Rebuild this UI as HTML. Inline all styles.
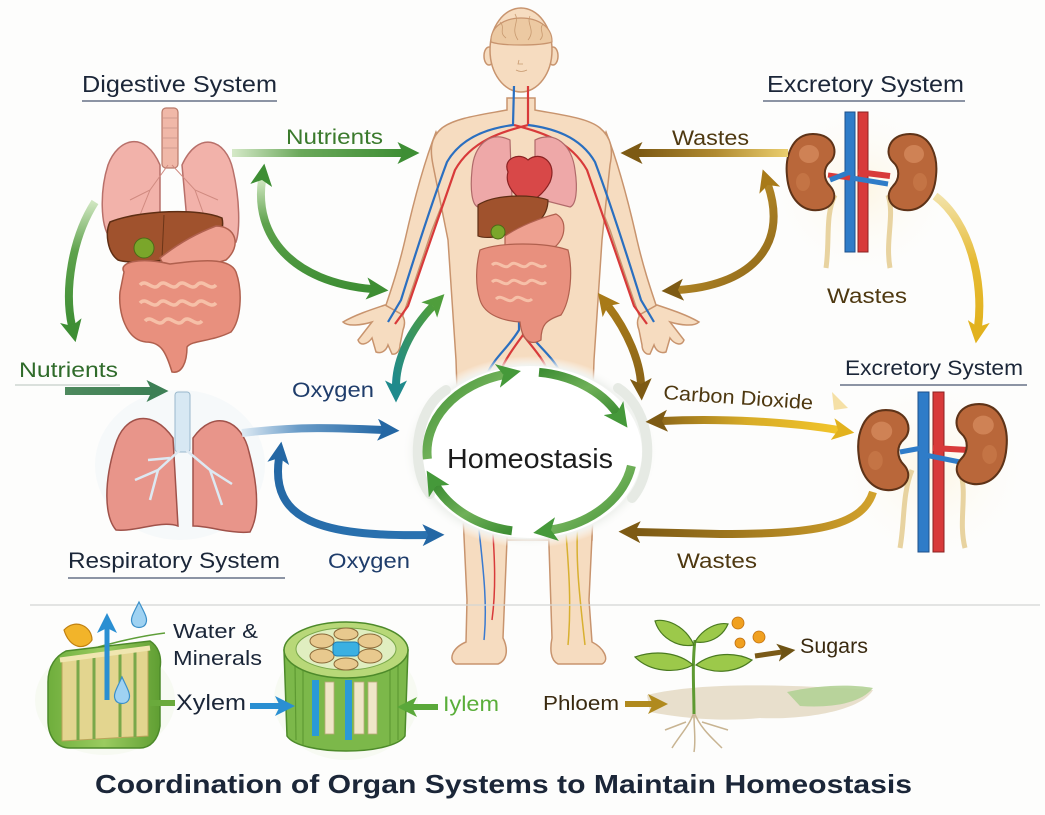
<!DOCTYPE html>
<html><head><meta charset="utf-8"><style>
html,body{margin:0;padding:0;background:#fdfdfc;}
svg{display:block;}
text{font-family:"Liberation Sans",sans-serif;}
</style></head><body>
<svg width="1045" height="815" viewBox="0 0 1045 815" xmlns="http://www.w3.org/2000/svg">
<defs>
 <marker id="mG" viewBox="0 0 12 12" refX="3" refY="6" markerWidth="22" markerHeight="22" markerUnits="userSpaceOnUse" orient="auto-start-reverse"><path d="M0,0 L12,6 L0,12 L3,6 Z" fill="#3e8e34"/></marker>
 <marker id="mG2" viewBox="0 0 12 12" refX="3" refY="6" markerWidth="24" markerHeight="24" markerUnits="userSpaceOnUse" orient="auto-start-reverse"><path d="M0,0 L12,6 L0,12 L3,6 Z" fill="#45993a"/></marker>
 <marker id="mGT" viewBox="0 0 12 12" refX="3" refY="6" markerWidth="22" markerHeight="22" markerUnits="userSpaceOnUse" orient="auto-start-reverse"><path d="M0,0 L12,6 L0,12 L3,6 Z" fill="#3d7f55"/></marker>
 <marker id="mT" viewBox="0 0 12 12" refX="3" refY="6" markerWidth="22" markerHeight="22" markerUnits="userSpaceOnUse" orient="auto-start-reverse"><path d="M0,0 L12,6 L0,12 L3,6 Z" fill="#1f8a8c"/></marker>
 <marker id="mT2" viewBox="0 0 12 12" refX="3" refY="6" markerWidth="22" markerHeight="22" markerUnits="userSpaceOnUse" orient="auto-start-reverse"><path d="M0,0 L12,6 L0,12 L3,6 Z" fill="#4f9e3c"/></marker>
 <marker id="mB" viewBox="0 0 12 12" refX="3" refY="6" markerWidth="22" markerHeight="22" markerUnits="userSpaceOnUse" orient="auto-start-reverse"><path d="M0,0 L12,6 L0,12 L3,6 Z" fill="#2467a4"/></marker>
 <marker id="mBr" viewBox="0 0 12 12" refX="3" refY="6" markerWidth="22" markerHeight="22" markerUnits="userSpaceOnUse" orient="auto-start-reverse"><path d="M0,0 L12,6 L0,12 L3,6 Z" fill="#7d5a14"/></marker>
 <marker id="mGo" viewBox="0 0 12 12" refX="3" refY="6" markerWidth="22" markerHeight="22" markerUnits="userSpaceOnUse" orient="auto-start-reverse"><path d="M0,0 L12,6 L0,12 L3,6 Z" fill="#a87a18"/></marker>
 <marker id="mY" viewBox="0 0 12 12" refX="3" refY="6" markerWidth="22" markerHeight="22" markerUnits="userSpaceOnUse" orient="auto-start-reverse"><path d="M0,0 L12,6 L0,12 L3,6 Z" fill="#e2b21e"/></marker>
 <marker id="mLB" viewBox="0 0 12 12" refX="3" refY="6" markerWidth="20" markerHeight="20" markerUnits="userSpaceOnUse" orient="auto-start-reverse"><path d="M0,0 L12,6 L0,12 L3,6 Z" fill="#2a8fd2"/></marker>
 <marker id="mLG" viewBox="0 0 12 12" refX="3" refY="6" markerWidth="20" markerHeight="20" markerUnits="userSpaceOnUse" orient="auto-start-reverse"><path d="M0,0 L12,6 L0,12 L3,6 Z" fill="#5aa83a"/></marker>
 <marker id="mPh" viewBox="0 0 12 12" refX="3" refY="6" markerWidth="20" markerHeight="20" markerUnits="userSpaceOnUse" orient="auto-start-reverse"><path d="M0,0 L12,6 L0,12 L3,6 Z" fill="#b08a1e"/></marker>
 <marker id="mSu" viewBox="0 0 12 12" refX="3" refY="6" markerWidth="18" markerHeight="18" markerUnits="userSpaceOnUse" orient="auto-start-reverse"><path d="M0,0 L12,6 L0,12 L3,6 Z" fill="#6e5314"/></marker>

 <linearGradient id="gNutTop" gradientUnits="userSpaceOnUse" x1="232" y1="0" x2="405" y2="0"><stop offset="0" stop-color="#d5e9c8"/><stop offset="0.4" stop-color="#6aa85a"/><stop offset="1" stop-color="#3e8e34"/></linearGradient>
 <linearGradient id="gNutLeft" gradientUnits="userSpaceOnUse" x1="60" y1="0" x2="155" y2="0"><stop offset="0" stop-color="#4f8a5e"/><stop offset="1" stop-color="#3d7f55"/></linearGradient>
 <linearGradient id="gWasteTop" gradientUnits="userSpaceOnUse" x1="790" y1="0" x2="640" y2="0"><stop offset="0" stop-color="#ecd070"/><stop offset="0.5" stop-color="#b08a30"/><stop offset="1" stop-color="#7d5a14"/></linearGradient>
 <linearGradient id="gOxy" gradientUnits="userSpaceOnUse" x1="240" y1="0" x2="385" y2="0"><stop offset="0" stop-color="#e2edf5"/><stop offset="0.4" stop-color="#6a9cc8"/><stop offset="1" stop-color="#2467a4"/></linearGradient>
 <linearGradient id="gCO2" gradientUnits="userSpaceOnUse" x1="655" y1="0" x2="840" y2="0"><stop offset="0" stop-color="#8a6418"/><stop offset="0.5" stop-color="#d8ac28"/><stop offset="1" stop-color="#f2c52a"/></linearGradient>
 <linearGradient id="gWasteBot" gradientUnits="userSpaceOnUse" x1="875" y1="0" x2="640" y2="0"><stop offset="0" stop-color="#d2a22c"/><stop offset="1" stop-color="#7d5a14"/></linearGradient>
 <linearGradient id="gGreenV" x1="0" y1="0" x2="0" y2="1"><stop offset="0" stop-color="#cfe6c0"/><stop offset="0.4" stop-color="#5ea24c"/><stop offset="1" stop-color="#3e8e34"/></linearGradient>
 <linearGradient id="gGreenC" x1="0" y1="0" x2="1" y2="1"><stop offset="0" stop-color="#3e8e34"/><stop offset="0.5" stop-color="#6fb058"/><stop offset="1" stop-color="#3e8e34"/></linearGradient>
 <linearGradient id="gTeal" x1="1" y1="0" x2="0" y2="1"><stop offset="0" stop-color="#4f9e3c"/><stop offset="1" stop-color="#1f8a8c"/></linearGradient>
 <linearGradient id="gBrownC" x1="0" y1="0" x2="0" y2="1"><stop offset="0" stop-color="#a87a18"/><stop offset="1" stop-color="#8a6418"/></linearGradient>
 <linearGradient id="gYel" x1="0" y1="0" x2="0" y2="1"><stop offset="0" stop-color="#f2e2a8"/><stop offset="0.5" stop-color="#e6bb35"/><stop offset="1" stop-color="#e2b21e"/></linearGradient>
 <linearGradient id="gBrownR" x1="0" y1="0" x2="1" y2="1"><stop offset="0" stop-color="#d0a030"/><stop offset="1" stop-color="#8a6418"/></linearGradient>
 <linearGradient id="gBlueC" x1="0" y1="0" x2="1" y2="1"><stop offset="0" stop-color="#2467a4"/><stop offset="1" stop-color="#2a72b0"/></linearGradient>
 <linearGradient id="gStem" x1="0" y1="0" x2="1" y2="0"><stop offset="0" stop-color="#6fae3c"/><stop offset="0.5" stop-color="#9acb60"/><stop offset="1" stop-color="#5f9e32"/></linearGradient>
 <radialGradient id="gGlow" cx="0.5" cy="0.5" r="0.5"><stop offset="0.7" stop-color="#ffffff"/><stop offset="0.9" stop-color="#f1f3f0"/><stop offset="1" stop-color="#fdfdfc" stop-opacity="0"/></radialGradient>
 <radialGradient id="gKid" cx="0.5" cy="0.5" r="0.5"><stop offset="0" stop-color="#fdf6e4"/><stop offset="1" stop-color="#fdfdfc" stop-opacity="0"/></radialGradient>

 <g id="kidR">
  <path d="M2,-38 C24,-38 30,-14 28,4 C26,28 12,40 -4,38 C-18,36 -24,24 -15,14 C-8,7 -8,-4 -15,-10 C-24,-18 -20,-38 2,-38 Z" fill="#b9673a" stroke="#5e3318" stroke-width="2"/>
  <ellipse cx="6" cy="-18" rx="10" ry="9" fill="#d48a5c" opacity="0.8"/>
  <ellipse cx="12" cy="10" rx="7" ry="9" fill="#c97a4a" opacity="0.7"/>
 </g>
</defs>

<rect width="1045" height="815" fill="#fdfdfc"/>

<!-- ============ BODY ============ -->
<g stroke="#c8946e" stroke-width="1.5" fill="#f6dcc0">
 <!-- arms -->
 <path d="M436,132 C425,160 414,200 405,240 C398,270 391,290 385,308 L402,318 C412,290 422,260 432,230 C440,210 448,190 453,175 Z"/>
 <path d="M385,305 C370,310 355,315 343,322 C348,327 362,325 372,322 L358,340 C360,346 367,345 372,338 L376,352 C381,354 386,351 388,345 L392,354 C396,355 400,351 400,345 L403,330 C406,322 404,317 401,314 Z"/>
 <path d="M606,132 C617,160 628,200 637,240 C644,270 651,290 657,308 L640,318 C630,290 620,260 610,230 C602,210 594,190 589,175 Z"/>
 <path d="M657,305 C672,310 687,315 699,322 C694,327 680,325 670,322 L684,340 C682,346 675,345 670,338 L666,352 C661,354 656,351 654,345 L650,354 C646,355 642,351 642,345 L639,330 C636,322 638,317 641,314 Z"/>
 <!-- torso -->
 <path d="M507,98 L507,110 C480,115 455,118 442,128 C430,138 430,150 433,165 L448,240 L452,300 L456,360 L458,420 L466,540 L592,540 L592,420 L594,360 L598,300 L602,240 L610,165 C613,150 612,138 600,128 C588,118 562,115 535,110 L535,98 Z"/>
 <!-- legs -->
 <path d="M463,515 L508,515 L503,638 C508,648 508,660 498,664 L456,664 C448,660 452,648 466,642 L467,600 Z"/>
 <path d="M548,515 L593,515 L589,600 L592,642 C604,648 610,660 602,664 L558,664 C550,660 550,648 552,638 Z"/>
 <!-- neck & head -->
 <ellipse cx="489" cy="56" rx="5" ry="9"/>
 <ellipse cx="553" cy="56" rx="5" ry="9"/>
 <ellipse cx="521" cy="50" rx="31" ry="42"/>
</g>
<path d="M491,42 C489,10 553,10 552,42 C540,46 502,46 491,42 Z" fill="#ecc9a2" stroke="#c8946e" stroke-width="1.2"/>
<g stroke="#c89a70" stroke-width="0.8" fill="none">
 <path d="M500,22 C506,28 498,32 506,38"/><path d="M515,14 C520,22 510,28 518,40"/><path d="M530,16 C526,24 536,30 528,40"/><path d="M543,24 C538,30 546,34 540,40"/>
 <path d="M516,70 Q521,73 527,70"/><path d="M519,60 L518,64 L523,64"/>
</g>
<!-- veins -->
<g fill="none" stroke-width="2.2">
 <path d="M514,86 L513,125 C490,128 462,136 447,162 C432,202 416,252 401,300 L388,322" stroke="#2a6fc0"/>
 <path d="M528,86 L528,125 C502,132 472,140 455,170 C441,210 423,262 408,306 L395,324" stroke="#d83a3a"/>
 <path d="M528,125 C552,128 580,136 595,162 C610,202 626,252 641,300 L654,322" stroke="#2a6fc0"/>
 <path d="M514,125 C540,132 570,140 587,170 C601,210 619,262 634,306 L647,324" stroke="#d83a3a"/>
 <path d="M519,200 L519,330 C508,348 496,356 488,372" stroke="#2a6fc0"/>
 <path d="M526,200 L526,330 C540,348 552,356 560,372" stroke="#2a6fc0"/>
 <path d="M523,200 L523,335 C512,350 505,360 500,372" stroke="#d83a3a"/>
 <path d="M523,335 C535,350 544,360 548,372" stroke="#d83a3a"/>
 <path d="M478,520 C482,560 488,600 484,640" stroke="#3a7ad0" stroke-width="1.5"/>
 <path d="M492,520 C495,560 496,590 492,620" stroke="#d83a3a" stroke-width="1.5"/>
 <path d="M565,520 C568,560 572,600 568,645" stroke="#d8b030" stroke-width="1.5"/>
 <path d="M578,520 C575,560 580,600 585,645" stroke="#d8b030" stroke-width="1.5"/>
</g>
<!-- body organs -->
<path d="M510,140 C490,130 474,145 472,170 C470,190 472,205 478,207 L512,198 Z" fill="#eea8a8" stroke="#b06a6a" stroke-width="1.2"/>
<path d="M535,140 C555,130 572,145 575,170 C578,190 576,205 570,207 L535,198 Z" fill="#eea8a8" stroke="#b06a6a" stroke-width="1.2"/>
<path d="M508,172 C502,158 520,152 528,160 C540,150 558,162 550,182 C544,194 532,202 526,204 C516,196 504,186 508,172 Z" fill="#d84848" stroke="#8a2222" stroke-width="1.2"/>
<path d="M478,205 C495,194 532,194 548,200 C548,216 536,228 515,233 C500,237 485,239 478,236 Z" fill="#a0522d" stroke="#5e2e14" stroke-width="1.2"/>
<circle cx="498" cy="232" r="7" fill="#7aa62a" stroke="#4d6a18" stroke-width="1"/>
<path d="M505,236 C520,226 540,218 556,214 C567,220 566,236 556,246 C540,252 520,250 505,250 Z" fill="#eea090" stroke="#b0604e" stroke-width="1.2"/>
<path d="M480,250 C500,242 545,242 568,250 C573,270 571,300 561,315 C546,320 541,325 541,340 C531,346 522,341 520,322 C505,321 485,316 480,300 C475,285 476,265 480,250 Z" fill="#e8907e" stroke="#b0604e" stroke-width="1.2"/>
<g fill="none" stroke="#f6c0a8" stroke-width="3">
 <path d="M492,265 c6,-6 12,6 18,0 s12,6 18,0 s12,6 18,0"/><path d="M492,282 c6,-6 12,6 18,0 s12,6 18,0 s12,6 18,0"/><path d="M496,299 c6,-6 12,6 18,0 s12,6 18,0"/>
</g>

<!-- ============ HOMEOSTASIS CIRCLE ============ -->
<ellipse cx="530" cy="452" rx="128" ry="96" fill="url(#gGlow)"/>
<ellipse cx="530" cy="452" rx="112" ry="86" fill="#ffffff"/>
<path d="M446,390 C414,410 410,468 430,494" fill="none" stroke="#e6eae4" stroke-width="10" stroke-linecap="round"/>
<path d="M618,388 C652,410 656,470 632,498" fill="none" stroke="#e6eae4" stroke-width="10" stroke-linecap="round"/>
<g fill="none" stroke-width="9">
 <path d="M427.4,459 A103,80 0 0 1 503.3,374.7" stroke="url(#gGreenC)" marker-end="url(#mG2)"/>
 <path d="M539,372.3 A103,80 0 0 1 617,413" stroke="url(#gGreenC)" marker-end="url(#mG2)"/>
 <path d="M631.4,465.9 A103,80 0 0 1 551,530" stroke="url(#gGreenC)" marker-end="url(#mG2)"/>
 <path d="M512,530.8 A103,80 0 0 1 436,486" stroke="url(#gGreenC)" marker-end="url(#mG2)"/>
</g>
<text x="447" y="468" font-size="28" fill="#1c1c1c" textLength="166" lengthAdjust="spacingAndGlyphs">Homeostasis</text>

<!-- ============ DIGESTIVE ORGANS ============ -->
<rect x="162" y="108" width="16" height="60" rx="4" fill="#f0b8a8" stroke="#b87a6a" stroke-width="1.2"/>
<g stroke="#c9968a" stroke-width="0.8"><line x1="163" y1="118" x2="177" y2="118"/><line x1="163" y1="128" x2="177" y2="128"/><line x1="163" y1="138" x2="177" y2="138"/><line x1="163" y1="148" x2="177" y2="148"/></g>
<path d="M160,165 C145,130 118,138 108,165 C100,190 100,225 110,238 L160,232 Z" fill="#f2b2aa" stroke="#b8706a" stroke-width="1.5"/>
<path d="M182,165 C198,130 226,138 233,170 C240,200 240,230 236,242 L188,232 Z" fill="#f2b2aa" stroke="#b8706a" stroke-width="1.5"/>
<g fill="none" stroke="#d08a80" stroke-width="1"><path d="M168,165 L150,190 L130,200"/><path d="M150,190 L140,215"/><path d="M172,165 L195,190 L218,200"/><path d="M195,190 L205,218"/></g>
<path d="M110,222 C140,210 200,208 222,218 C226,235 210,250 190,256 C160,262 130,264 118,260 C107,252 105,232 110,222 Z" fill="#a0522d" stroke="#5e2e14" stroke-width="1.5"/>
<line x1="164" y1="215" x2="162" y2="258" stroke="#6b3518" stroke-width="1"/>
<path d="M160,258 C180,242 200,232 216,226 C236,226 242,246 226,260 C206,267 186,264 165,268 Z" fill="#eea090" stroke="#b0604e" stroke-width="1.5"/>
<circle cx="144" cy="248" r="10" fill="#7aa62a" stroke="#4d6a18" stroke-width="1"/>
<path d="M124,272 C118,262 140,257 170,264 C200,260 230,257 236,272 C243,292 241,320 231,332 C211,342 192,340 187,347 C187,362 182,374 172,372 C166,352 161,342 146,342 C126,340 118,312 120,292 Z" fill="#e8907e" stroke="#b0604e" stroke-width="1.5"/>
<g fill="none" stroke="#f6c0a8" stroke-width="3.5">
 <path d="M140,285 c6,-7 13,7 19,0 s13,7 19,0 s13,7 19,0 s13,7 19,0"/><path d="M140,303 c6,-7 13,7 19,0 s13,7 19,0 s13,7 19,0 s13,7 19,0"/><path d="M145,321 c6,-7 13,7 19,0 s13,7 19,0 s13,7 19,0"/>
</g>

<!-- ============ RESPIRATORY ============ -->
<ellipse cx="180" cy="465" rx="85" ry="75" fill="#f2f6fa" opacity="0.7"/>
<rect x="175" y="392" width="15" height="60" rx="3" fill="#d7e8f3" stroke="#9ab8cc" stroke-width="1"/>
<path d="M173,438 C152,408 124,414 115,446 C104,482 104,516 116,530 C136,532 160,520 178,526 Z" fill="#e8958a" stroke="#a0524a" stroke-width="1.5"/>
<path d="M193,438 C214,408 242,420 249,452 C259,490 259,516 250,532 C230,534 210,526 193,526 Z" fill="#e8958a" stroke="#a0524a" stroke-width="1.5"/>
<g fill="none" stroke="#dde9f2" stroke-width="2.5"><path d="M180,450 L158,470 L135,480"/><path d="M158,470 L150,500"/><path d="M186,450 L210,470 L232,484"/><path d="M210,470 L222,505"/><path d="M170,458 L148,460"/></g>

<!-- ============ KIDNEYS TOP ============ -->
<ellipse cx="862" cy="190" rx="95" ry="90" fill="url(#gKid)"/>
<path d="M835,195 C825,215 830,240 826,268" fill="none" stroke="#e8d3a0" stroke-width="5"/>
<path d="M888,195 C895,215 885,240 890,268" fill="none" stroke="#e8d3a0" stroke-width="5"/>
<rect x="845" y="112" width="10" height="140" fill="#2f7cc8" stroke="#1d4f8a" stroke-width="1"/>
<rect x="858" y="112" width="10" height="140" fill="#d83a3a" stroke="#8a2222" stroke-width="1"/>
<path d="M858,172 L890,176" stroke="#d83a3a" stroke-width="6"/>
<path d="M850,178 L828,175" stroke="#d83a3a" stroke-width="5"/>
<path d="M850,172 L830,180 M852,178 L888,184" stroke="#2f7cc8" stroke-width="5"/>
<use href="#kidR" transform="translate(815,172) scale(-1,1)"/>
<use href="#kidR" transform="translate(908,172)"/>

<!-- ============ KIDNEYS BOTTOM ============ -->
<ellipse cx="932" cy="470" rx="100" ry="95" fill="url(#gKid)"/>
<path d="M912,470 C902,495 905,520 900,548" fill="none" stroke="#e8d3a0" stroke-width="5"/>
<path d="M960,470 C968,495 958,520 965,548" fill="none" stroke="#e8d3a0" stroke-width="5"/>
<rect x="918" y="392" width="11" height="160" fill="#2f7cc8" stroke="#1d4f8a" stroke-width="1"/>
<rect x="933" y="392" width="11" height="160" fill="#d83a3a" stroke="#8a2222" stroke-width="1"/>
<path d="M933,448 L968,450" stroke="#d83a3a" stroke-width="6"/>
<path d="M922,448 L900,452 M925,455 L960,462" stroke="#2f7cc8" stroke-width="5"/>
<use href="#kidR" transform="translate(888,450) scale(-1.05,1.05)"/>
<use href="#kidR" transform="translate(977,444) scale(1.05,1.05)"/>
<path d="M832,392 L848,408 L834,410 Z" fill="#f2d890" opacity="0.8"/>

<!-- ============ ARROWS ============ -->
<g fill="none" stroke-width="8">
 <path d="M232,153 L403,153" stroke="url(#gNutTop)" marker-end="url(#mG)"/>
 <path d="M262,180 C254,236 292,282 372,289" stroke="url(#gGreenV)" marker-start="url(#mG)" marker-end="url(#mG)"/>
 <path d="M95,202 C72,238 64,290 72,326" stroke="url(#gGreenV)" marker-end="url(#mG)"/>
 <path d="M65,391 L152,391" stroke="url(#gNutLeft)" marker-end="url(#mGT)"/>
 <path d="M433,306 C410,330 396,360 396,386" stroke="url(#gTeal)" marker-start="url(#mT2)" marker-end="url(#mT)"/>
 <path d="M242,433 C300,426 340,428 383,430" stroke="url(#gOxy)" marker-end="url(#mB)"/>
 <path d="M279,458 C270,520 320,537 428,535" stroke="url(#gBlueC)" marker-start="url(#mB)" marker-end="url(#mB)"/>
 <path d="M788,153 L637,153" stroke="url(#gWasteTop)" marker-end="url(#mBr)"/>
 <path d="M768,185 C790,250 745,286 678,290" stroke="url(#gBrownR)" marker-start="url(#mGo)" marker-end="url(#mBr)"/>
 <path d="M935,196 C970,222 984,282 978,327" stroke="url(#gYel)" marker-end="url(#mY)"/>
 <path d="M608,306 C628,332 640,362 641,384" stroke="url(#gBrownC)" marker-start="url(#mGo)" marker-end="url(#mBr)"/>
 <path d="M662,421 C722,418 790,422 838,430" stroke="url(#gCO2)" marker-start="url(#mBr)" marker-end="url(#mY)"/>
 <path d="M873,492 C862,528 810,534 720,534 L635,532" stroke="url(#gWasteBot)" marker-end="url(#mBr)"/>
</g>

<!-- ============ TEXT LABELS ============ -->
<g fill="#1b2638">
 <text x="82" y="92" font-size="23" textLength="195" lengthAdjust="spacingAndGlyphs">Digestive System</text>
 <text x="767" y="92" font-size="23" textLength="197" lengthAdjust="spacingAndGlyphs">Excretory System</text>
 <text x="845" y="375" font-size="21" textLength="178" lengthAdjust="spacingAndGlyphs">Excretory System</text>
 <text x="68" y="568" font-size="22" textLength="212" lengthAdjust="spacingAndGlyphs">Respiratory System</text>
 <text x="173" y="638" font-size="20" textLength="85" lengthAdjust="spacingAndGlyphs">Water &amp;</text>
 <text x="173" y="665" font-size="20" textLength="89" lengthAdjust="spacingAndGlyphs">Minerals</text>
 <text x="176" y="710" font-size="22" textLength="70" lengthAdjust="spacingAndGlyphs">Xylem</text>
</g>
<g stroke="#4a5670" stroke-width="1.2">
 <line x1="82" y1="101" x2="277" y2="101"/>
 <line x1="763" y1="101" x2="965" y2="101"/>
 <line x1="840" y1="385" x2="1027" y2="385"/>
 <line x1="68" y1="578" x2="285" y2="578"/>
</g>
<line x1="15" y1="385" x2="120" y2="385" stroke="#b8c4bc" stroke-width="1"/>
<text x="286" y="144" font-size="21" fill="#3b7a2c" textLength="97" lengthAdjust="spacingAndGlyphs">Nutrients</text>
<text x="19" y="377" font-size="21" fill="#2f6b2a" textLength="99" lengthAdjust="spacingAndGlyphs">Nutrients</text>
<text x="292" y="397" font-size="21" fill="#1f3d6b" textLength="82" lengthAdjust="spacingAndGlyphs">Oxygen</text>
<text x="328" y="568" font-size="21" fill="#1f3d6b" textLength="82" lengthAdjust="spacingAndGlyphs">Oxygen</text>
<text x="672" y="145" font-size="21" fill="#4e3810" textLength="77" lengthAdjust="spacingAndGlyphs">Wastes</text>
<text x="827" y="303" font-size="21" fill="#4e3810" textLength="80" lengthAdjust="spacingAndGlyphs">Wastes</text>
<text x="677" y="568" font-size="21" fill="#4e3810" textLength="80" lengthAdjust="spacingAndGlyphs">Wastes</text>
<text x="663" y="399" font-size="20" fill="#4e3810" textLength="150" lengthAdjust="spacingAndGlyphs" transform="rotate(4 663 399)">Carbon Dioxide</text>

<!-- divider -->
<line x1="30" y1="605" x2="1040" y2="605" stroke="#d4d6d4" stroke-width="1.2"/>

<!-- ============ PLANTS ============ -->
<!-- stem section -->
<ellipse cx="105" cy="700" rx="70" ry="55" fill="#f4f8ee" opacity="0.7"/>
<path d="M67,657 C100,645 140,636 165,633" fill="none" stroke="#5e9e38" stroke-width="1.5"/>
<path d="M48,682 C48,666 56,656 66,651 L150,641 C158,646 162,656 160,668 L160,726 C158,740 150,748 140,748 L70,748 C56,748 48,736 48,720 Z" fill="url(#gStem)" stroke="#4d8a2a" stroke-width="1.5"/>
<path d="M62,660 L148,650 L148,736 L62,741 Z" fill="#e3d58f" stroke="#b9a45a" stroke-width="1"/>
<g stroke="#7aa84a" stroke-width="3"><line x1="78" y1="658" x2="78" y2="740"/><line x1="94" y1="656" x2="94" y2="739"/><line x1="120" y1="653" x2="120" y2="737"/><line x1="135" y1="651" x2="135" y2="737"/></g>
<path d="M60,660 L150,648" stroke="#f0e6b0" stroke-width="5"/>
<path d="M64,630 C75,618 92,626 92,640 C86,650 70,650 64,630 Z" fill="#f2b42a" stroke="#c08010" stroke-width="1.2"/>
<rect x="150" y="700" width="25" height="6" fill="#6aaa3c"/>
<path d="M107,700 L107,628" stroke="#2a8fd2" stroke-width="5" marker-end="url(#mLB)"/>
<path d="M139,602 C134,612 130,618 132,623 C134,629 144,629 146,623 C148,618 144,612 139,602 Z" fill="#9fd2f2" stroke="#3b8fc8" stroke-width="1.2"/>
<path d="M122,677 C117,688 113,694 115,699 C117,705 127,705 129,699 C131,694 127,688 122,677 Z" fill="#9fd2f2" stroke="#3b8fc8" stroke-width="1.2"/>

<!-- cylinder -->
<ellipse cx="346" cy="700" rx="72" ry="60" fill="#f4f8ee" opacity="0.7"/>
<path d="M284,650 L287,736 C300,756 392,756 405,736 L408,650 Z" fill="#7cb84a" stroke="#4d8a2a" stroke-width="1.5"/>
<g stroke="#5e9a32" stroke-width="1.2"><line x1="295" y1="665" x2="296" y2="740"/><line x1="303" y1="670" x2="303" y2="745"/><line x1="390" y1="670" x2="390" y2="745"/><line x1="398" y1="665" x2="398" y2="740"/></g>
<rect x="312" y="680" width="7" height="56" fill="#2a9ad8"/>
<rect x="325" y="682" width="9" height="52" fill="#efe6c8" stroke="#b8a878" stroke-width="0.8"/>
<rect x="345" y="680" width="7" height="60" fill="#2a9ad8"/>
<rect x="354" y="682" width="10" height="52" fill="#efe6c8" stroke="#b8a878" stroke-width="0.8"/>
<rect x="368" y="682" width="9" height="52" fill="#efe6c8" stroke="#b8a878" stroke-width="0.8"/>
<ellipse cx="346" cy="650" rx="62" ry="28" fill="#b8d878" stroke="#4d8a2a" stroke-width="1.5"/>
<ellipse cx="346" cy="649" rx="50" ry="21" fill="#e0eec0" stroke="#7aa84a" stroke-width="1"/>
<g fill="#e8c98e" stroke="#8a6a3a" stroke-width="1">
 <ellipse cx="322" cy="641" rx="12" ry="7"/><ellipse cx="346" cy="634" rx="12" ry="6"/><ellipse cx="370" cy="641" rx="12" ry="7"/>
 <ellipse cx="322" cy="656" rx="12" ry="7"/><ellipse cx="346" cy="664" rx="12" ry="6"/><ellipse cx="370" cy="656" rx="12" ry="7"/>
</g>
<rect x="333" y="642" width="26" height="14" rx="4" fill="#3ab0e2" stroke="#1f7ab0" stroke-width="1"/>
<path d="M250,706 L280,706" stroke="#2a8fd2" stroke-width="6" marker-end="url(#mLB)"/>
<path d="M438,707 L412,707" stroke="#5aa83a" stroke-width="6" marker-end="url(#mLG)"/>
<text x="443" y="711" font-size="21" fill="#5aae3a" textLength="56" lengthAdjust="spacingAndGlyphs">Iylem</text>

<!-- plant -->
<path d="M647,695 C700,682 780,684 873,690 C860,712 800,720 760,718 C720,722 680,718 650,712 Z" fill="#e6dcc6" opacity="0.9"/>
<path d="M787,692 C820,685 850,684 873,688 C860,704 830,708 800,706 Z" fill="#b2d196" opacity="0.9"/>
<g fill="none" stroke="#c8b492" stroke-width="1.5">
 <path d="M694,712 C690,725 680,735 672,748"/><path d="M694,712 C700,728 712,738 722,748"/><path d="M694,715 C694,730 696,740 694,752"/><path d="M686,722 L665,730"/><path d="M702,722 L728,730"/>
</g>
<path d="M694,714 C694,690 692,665 695,640" fill="none" stroke="#5e9a32" stroke-width="3"/>
<g fill="#9cc94a" stroke="#4a7a20" stroke-width="1.2">
 <path d="M694,645 C685,625 665,618 655,621 C660,638 678,648 694,645 Z"/>
 <path d="M695,642 C703,628 718,622 728,624 C722,638 708,644 695,642 Z"/>
 <path d="M693,665 C678,652 655,650 635,657 C650,672 676,674 693,665 Z"/>
 <path d="M696,665 C712,652 735,652 752,660 C736,674 712,674 696,665 Z"/>
</g>
<g fill="#f0a020" stroke="#c07010" stroke-width="0.8">
 <circle cx="738" cy="623" r="6"/><circle cx="740" cy="643" r="5"/><circle cx="759" cy="637" r="6"/>
</g>
<path d="M755,656 L782,652" stroke="#7a5a18" stroke-width="5" marker-end="url(#mSu)"/>
<path d="M625,704 L653,704" stroke="#b08a1e" stroke-width="6" marker-end="url(#mPh)"/>
<text x="800" y="653" font-size="21" fill="#3a2a10" textLength="68" lengthAdjust="spacingAndGlyphs">Sugars</text>
<text x="543" y="710" font-size="20" fill="#3a2a10" textLength="76" lengthAdjust="spacingAndGlyphs">Phloem</text>

<!-- title -->
<text x="95" y="793" font-size="26" font-weight="bold" fill="#1b2638" textLength="817" lengthAdjust="spacingAndGlyphs">Coordination of Organ Systems to Maintain Homeostasis</text>
</svg>
</body></html>
